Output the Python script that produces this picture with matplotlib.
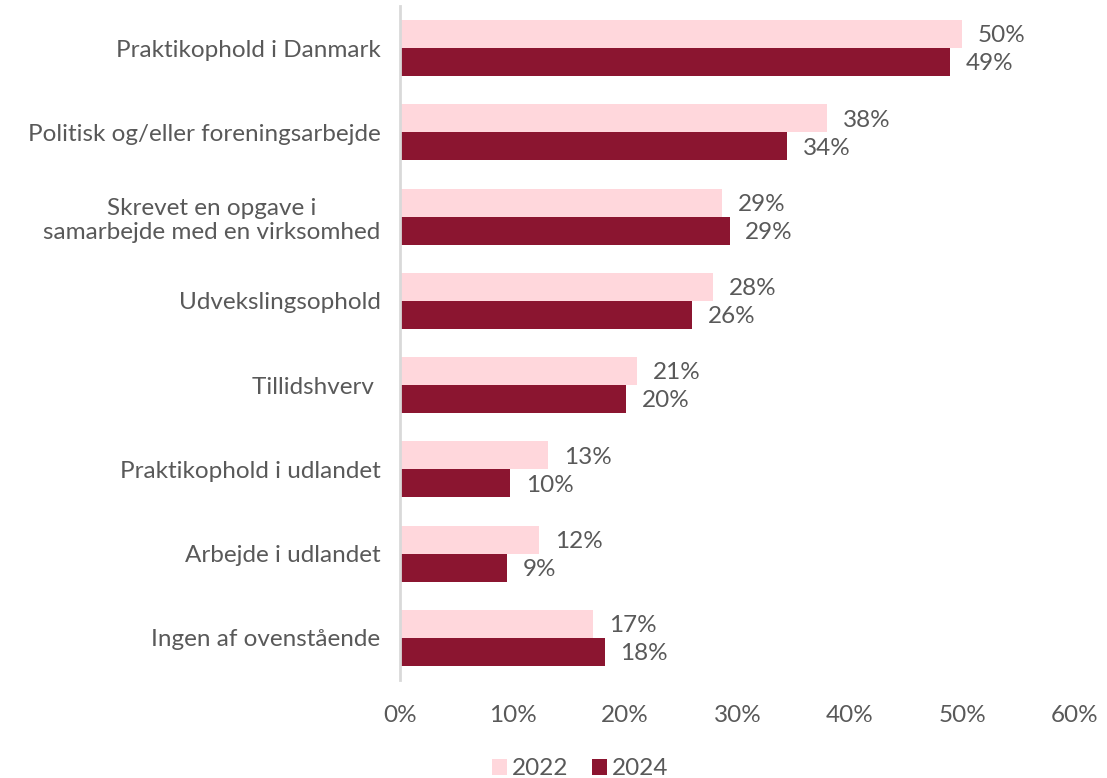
import matplotlib
matplotlib.use("Agg")
import matplotlib.pyplot as plt
import numpy as np

categories = ["Praktikophold i Danmark", "Politisk og/eller foreningsarbejde",
              "Skrevet en opgave i\nsamarbejde med en virksomhed", "Udvekslingsophold",
              "Tillidshverv ", "Praktikophold i udlandet", "Arbejde i udlandet",
              "Ingen af ovenstående"]
v2022 = [50.0, 38.0, 28.6, 27.8, 21.1, 13.2, 12.4, 17.2]
v2024 = [48.9, 34.4, 29.3, 26.0, 20.1, 9.8, 9.5, 18.2]
lab2022 = ["50%", "38%", "29%", "28%", "21%", "13%", "12%", "17%"]
lab2024 = ["49%", "34%", "29%", "26%", "20%", "10%", "9%", "18%"]
xticks = [0, 10, 20, 30, 40, 50, 60]

plt.rcParams['font.family'] = ['Lato', 'DejaVu Sans']
gray = "#595959"
c22 = "#FFD7DC"
c24 = "#8B1530"
fs = 17.5

fig = plt.figure(figsize=(11.07, 7.78), dpi=100)
ax = fig.add_axes([0.3613, 0.126, 0.971 - 0.3613, 0.9923 - 0.126])
y = np.arange(len(categories))
h = 0.332
ax.barh(y - h/2, v2022, height=h, color=c22, label="2022")
ax.barh(y + h/2, v2024, height=h, color=c24, label="2024")
for i in range(len(categories)):
    ax.text(v2022[i] + 1.4, y[i] - h/2 + 0.02, lab2022[i], va='center', ha='left', fontsize=fs, color=gray)
    ax.text(v2024[i] + 1.4, y[i] + h/2 + 0.02, lab2024[i], va='center', ha='left', fontsize=fs, color=gray)
ax.set_ylim(len(categories) - 0.5, -0.5)
ax.set_xlim(0, 60)
ax.set_yticks(y)
ax.set_yticklabels(categories, fontsize=fs, color=gray)
ax.set_xticks(xticks)
ax.set_xticklabels([f"{t}%" for t in xticks], fontsize=fs, color=gray)
for s in ['top', 'right', 'bottom']:
    ax.spines[s].set_visible(False)
ax.spines['left'].set_color("#D9D9D9")
ax.spines['left'].set_linewidth(2)
ax.tick_params(axis='both', length=0)
ax.tick_params(axis='x', pad=18)
ax.tick_params(axis='y', pad=14)
for lbl in ax.get_yticklabels():
    lbl.set_multialignment('center')
fig.legend(loc='lower center', bbox_to_anchor=(0.524, -0.03), ncol=2, frameon=False,
           fontsize=fs, labelcolor=gray, handlelength=0.6, handleheight=0.6,
           handletextpad=0.2, columnspacing=1.0)
fig.savefig("out.png", dpi=100)
